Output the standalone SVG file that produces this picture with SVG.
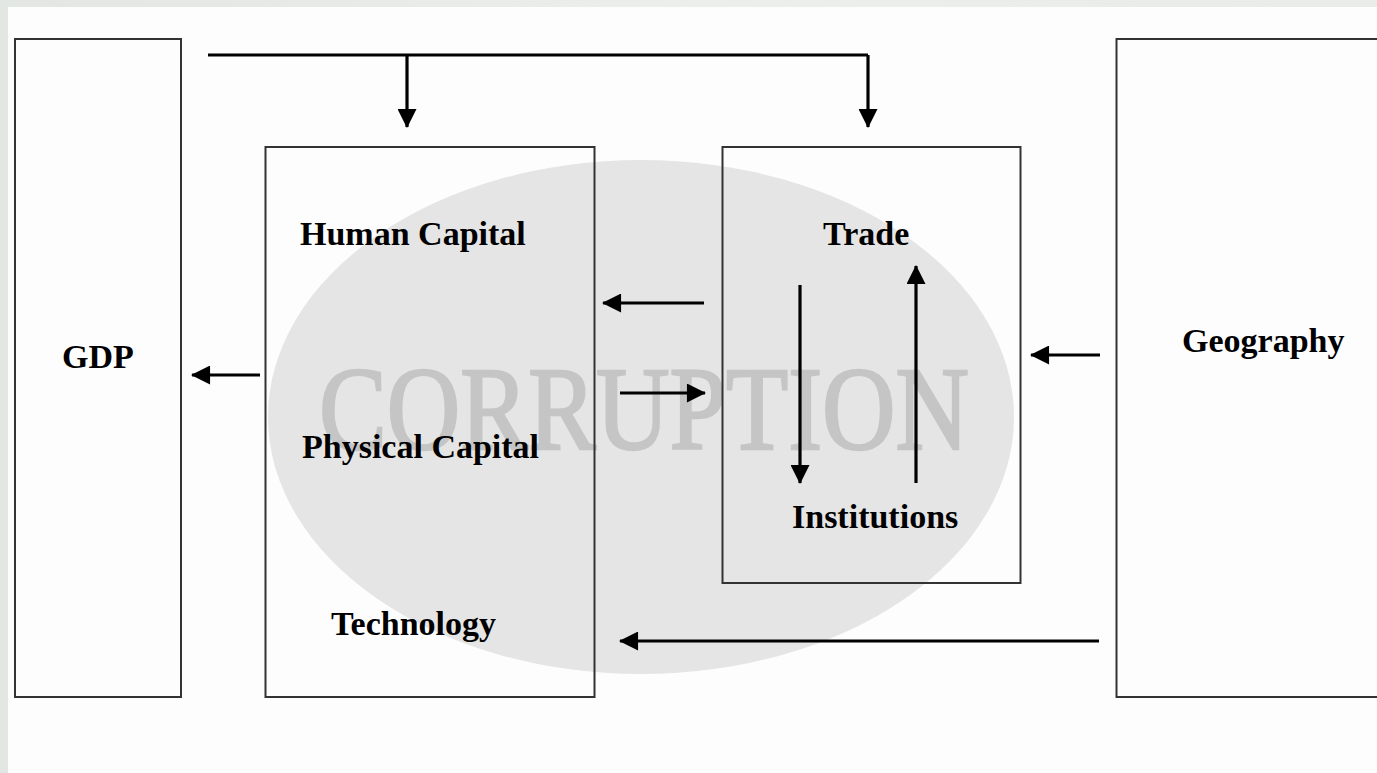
<svg xmlns="http://www.w3.org/2000/svg" width="1377" height="773" viewBox="0 0 1377 773">
  <style>
    .box { fill: none; stroke: #333; stroke-width: 2; }
    .lbl { font-family: "Liberation Serif", "Times New Roman", serif; font-weight: bold; font-size: 34px; fill: #000; }
    .wire { fill: none; stroke: #000; stroke-width: 3.2; }
    .arr { fill: none; stroke: #000; stroke-width: 3.2; marker-end: url(#head); }
  </style>
  <defs>
    <linearGradient id="topband" x1="0" y1="0" x2="1" y2="0">
      <stop offset="0" stop-color="#e2e7e2"/>
      <stop offset="0.5" stop-color="#eceeea"/>
      <stop offset="1" stop-color="#e8ede8"/>
    </linearGradient>
    <marker id="head" viewBox="0 0 20 20" refX="19" refY="10" markerUnits="userSpaceOnUse" markerWidth="20" markerHeight="19" orient="auto">
      <path d="M0,0 L20,10 L0,20 Z" fill="#000"/>
    </marker>
  </defs>

  <!-- background -->
  <rect x="0" y="0" width="1377" height="773" fill="#fdfdfd"/>
  <rect x="0" y="0" width="1377" height="7" fill="url(#topband)"/>
  <rect x="0" y="0" width="8" height="773" fill="#e3e7e3"/>

  <!-- watermark -->
  <g id="watermark">
    <ellipse cx="641" cy="417" rx="373" ry="257" fill="#e5e5e5"/>
    <text x="319" y="449" font-family="Liberation Serif, 'Times New Roman', serif" font-size="118" fill="#c5c5c5" stroke="#c5c5c5" stroke-width="2.5" textLength="650" lengthAdjust="spacingAndGlyphs">CORRUPTION</text>
  </g>

  <!-- nodes -->
  <g id="node-gdp">
    <rect class="box" x="15" y="39" width="166" height="658"/>
    <text class="lbl" x="62" y="368">GDP</text>
  </g>
  <g id="node-factors">
    <rect class="box" x="265.5" y="147" width="329" height="550"/>
    <text class="lbl" x="300" y="245">Human Capital</text>
    <text class="lbl" x="302" y="458">Physical Capital</text>
    <text class="lbl" x="331" y="635">Technology</text>
  </g>
  <g id="node-trade-institutions">
    <rect class="box" x="722.5" y="147" width="298" height="436"/>
    <text class="lbl" x="823" y="245">Trade</text>
    <text class="lbl" x="792" y="528">Institutions</text>
  </g>
  <g id="node-geography">
    <rect class="box" x="1116.5" y="39" width="290" height="658"/>
    <text class="lbl" x="1182" y="352">Geography</text>
  </g>

  <!-- connectors -->
  <g id="connectors">
    <path class="wire" d="M208,55 H868"/>
    <path class="arr" d="M407,55 V127"/>
    <path class="arr" d="M868,55 V127"/>
    <path class="arr" d="M260,375 H192"/>
    <path class="arr" d="M704,303 H603"/>
    <path class="arr" d="M620,393 H705"/>
    <path class="arr" d="M800,285 V483"/>
    <path class="arr" d="M916,483 V266"/>
    <path class="arr" d="M1100,355 H1031"/>
    <path class="arr" d="M1099,641 H620"/>
  </g>
</svg>
